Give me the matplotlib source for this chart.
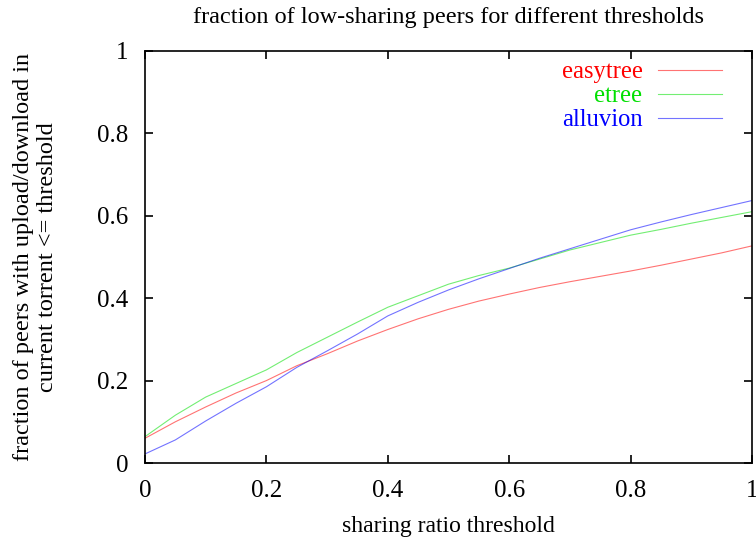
import matplotlib
matplotlib.use("Agg")
import matplotlib.pyplot as plt
from matplotlib.ticker import FuncFormatter

x = [0.0, 0.05, 0.1, 0.15, 0.2, 0.25, 0.3, 0.35, 0.4, 0.45, 0.5,
     0.55, 0.6, 0.65, 0.7, 0.75, 0.8, 0.85, 0.9, 0.95, 1.0]
easytree = [0.060, 0.100, 0.136, 0.170, 0.200, 0.236, 0.265, 0.296, 0.324, 0.350, 0.373,
            0.393, 0.410, 0.426, 0.440, 0.453, 0.466, 0.480, 0.495, 0.510, 0.527]
etree = [0.064, 0.116, 0.160, 0.193, 0.226, 0.268, 0.305, 0.342, 0.378, 0.406, 0.434,
         0.455, 0.473, 0.495, 0.517, 0.535, 0.553, 0.567, 0.582, 0.596, 0.610]
alluvion = [0.022, 0.056, 0.102, 0.145, 0.185, 0.232, 0.272, 0.313, 0.357, 0.390, 0.420,
            0.447, 0.472, 0.497, 0.520, 0.543, 0.566, 0.585, 0.603, 0.620, 0.637]

labels = ["easytree", "etree", "alluvion"]
colors = ["#ff0000", "#00e000", "#0000ff"]
series = [easytree, etree, alluvion]

plt.rcParams['font.family'] = ['Liberation Serif', 'DejaVu Serif']

fig = plt.figure(figsize=(7.56, 5.39), dpi=100)
ax = fig.add_axes([0.1918, 0.141, 0.8029, 0.7644])

for lab, col, ys in zip(labels, colors, series):
    ax.plot(x, ys, color=col, lw=0.8, alpha=0.55, label=lab)

ax.set_xlim(0, 1)
ax.set_ylim(0, 1)
ax.set_xticks([0, 0.2, 0.4, 0.6, 0.8, 1.0])
ax.set_yticks([0, 0.2, 0.4, 0.6, 0.8, 1.0])
fmt = FuncFormatter(lambda v, p: f"{v:g}")
ax.xaxis.set_major_formatter(fmt)
ax.yaxis.set_major_formatter(fmt)
ax.tick_params(direction='in', top=True, right=True, length=6, width=1.2,
               labelsize=18, pad=12)
for s in ax.spines.values():
    s.set_linewidth(1.2)

ax.set_title("fraction of low-sharing peers for different thresholds",
             fontsize=17.5, pad=20)
ax.set_xlabel("sharing ratio threshold", fontsize=17, labelpad=10)
ax.set_ylabel("fraction of peers with upload/download in\ncurrent torrent <= threshold",
              fontsize=17.5, labelpad=28)

leg = ax.legend(loc='upper right', bbox_to_anchor=(0.9786, 1.017),
                frameon=False, markerfirst=False,
                fontsize=17.7, handlelength=2.6, labelspacing=0.07,
                borderaxespad=0.3, handletextpad=0.63)
for t, c in zip(leg.get_texts(), colors):
    t.set_color(c)
    t.set_ha('right')

fig.savefig("out.png", dpi=100)
